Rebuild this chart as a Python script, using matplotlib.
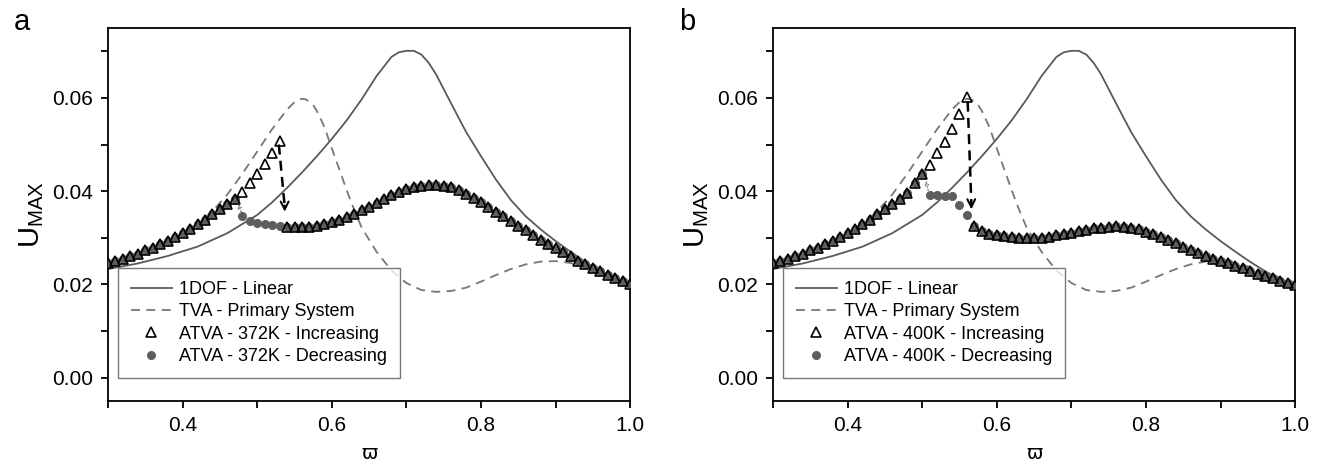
import matplotlib
matplotlib.use("Agg")
import matplotlib.pyplot as plt
from matplotlib.ticker import MultipleLocator, FormatStrFormatter

plt.rcParams['font.family'] = ['Liberation Sans', 'DejaVu Sans']
plt.rcParams['mathtext.fontset'] = 'custom'
plt.rcParams['mathtext.rm'] = 'Liberation Sans'

# ---------------- data ----------------
# 1DOF - Linear (same in both panels)
dof_w = [0.30, 0.34, 0.38, 0.42, 0.46, 0.50, 0.52, 0.54, 0.56, 0.58, 0.60, 0.62, 0.64,
         0.66, 0.68, 0.69, 0.70, 0.71, 0.72, 0.73, 0.74, 0.76, 0.78, 0.80, 0.82, 0.84,
         0.86, 0.88, 0.90, 0.92, 0.94, 0.96, 0.98, 1.00]
dof_u = [0.0233, 0.0245, 0.0261, 0.0281, 0.0310, 0.0349, 0.0376, 0.0407, 0.0440, 0.0475,
         0.0512, 0.0552, 0.0597, 0.0647, 0.0688, 0.0698, 0.0701, 0.0701, 0.0693, 0.0675,
         0.0650, 0.0588, 0.0527, 0.0475, 0.0425, 0.0381, 0.0346, 0.0318, 0.0293, 0.0270,
         0.0248, 0.0228, 0.0211, 0.0195]

# TVA - Primary System (same in both panels)
tva_w = [0.30, 0.34, 0.38, 0.42, 0.44, 0.46, 0.48, 0.50, 0.52, 0.54, 0.55, 0.555, 0.56,
         0.565, 0.57, 0.575, 0.58, 0.59, 0.60, 0.61, 0.62, 0.63, 0.64, 0.66, 0.68, 0.70,
         0.72, 0.74, 0.76, 0.78, 0.80, 0.82, 0.84, 0.86, 0.88, 0.90, 0.92, 0.94, 0.96,
         0.98, 1.00]
tva_u = [0.0245, 0.0264, 0.0292, 0.0330, 0.0357, 0.0393, 0.0437, 0.0485, 0.0533, 0.0575,
         0.0591, 0.0596, 0.0598, 0.0597, 0.0592, 0.0585, 0.0572, 0.0538, 0.0492, 0.0447,
         0.0402, 0.0360, 0.0322, 0.0270, 0.0230, 0.0203, 0.0188, 0.0184, 0.0186, 0.0193,
         0.0206, 0.0220, 0.0233, 0.0243, 0.0249, 0.0250, 0.0246, 0.0237, 0.0226, 0.0214,
         0.0201]

# sweep frequencies, common lower-frequency part
w_low = [0.30, 0.31, 0.32, 0.33, 0.34, 0.35, 0.36, 0.37, 0.38, 0.39, 0.40, 0.41, 0.42,
         0.43, 0.44, 0.45, 0.46, 0.47]
u_low = [0.0245, 0.0250, 0.0255, 0.0261, 0.0266, 0.0273, 0.0279, 0.0286, 0.0294, 0.0302,
         0.0310, 0.0319, 0.0329, 0.0339, 0.0350, 0.0361, 0.0372, 0.0383]

# panel a (372K)
a_up_w = [0.48, 0.49, 0.50, 0.51, 0.52, 0.53]
a_up_u = [0.0398, 0.0418, 0.0436, 0.0458, 0.0482, 0.0508]
a_dec_w = [0.48, 0.49, 0.50, 0.51, 0.52, 0.53]
a_dec_u = [0.0346, 0.0336, 0.0332, 0.0329, 0.0327, 0.0325]
a_hi_w = [0.54, 0.55, 0.56, 0.57, 0.58, 0.59, 0.60, 0.61, 0.62, 0.63, 0.64, 0.65, 0.66,
          0.67, 0.68, 0.69, 0.70, 0.71, 0.72, 0.73, 0.74, 0.75, 0.76, 0.77, 0.78, 0.79,
          0.80, 0.81, 0.82, 0.83, 0.84, 0.85, 0.86, 0.87, 0.88, 0.89, 0.90, 0.91, 0.92,
          0.93, 0.94, 0.95, 0.96, 0.97, 0.98, 0.99, 1.00]
a_hi_u = [0.0323, 0.0323, 0.0323, 0.0324, 0.0326, 0.0329, 0.0333, 0.0338, 0.0344, 0.0351,
          0.0359, 0.0367, 0.0375, 0.0383, 0.0391, 0.0398, 0.0404, 0.0409, 0.0412, 0.0414,
          0.0414, 0.0412, 0.0408, 0.0402, 0.0395, 0.0386, 0.0377, 0.0367, 0.0356, 0.0346,
          0.0336, 0.0326, 0.0316, 0.0306, 0.0296, 0.0287, 0.0278, 0.0269, 0.0260, 0.0251,
          0.0243, 0.0235, 0.0228, 0.0221, 0.0214, 0.0207, 0.0200]

# panel b (400K)
b_up_w = [0.48, 0.49, 0.50, 0.51, 0.52, 0.53, 0.54, 0.55, 0.56]
b_up_u = [0.0397, 0.0417, 0.0436, 0.0457, 0.0481, 0.0506, 0.0534, 0.0565, 0.0601]
b_dec_w = [0.51, 0.52, 0.53, 0.54, 0.55, 0.56]
b_dec_u = [0.0392, 0.0391, 0.0390, 0.0389, 0.0371, 0.0348]
b_hi_w = [0.57, 0.58, 0.59, 0.60, 0.61, 0.62, 0.63, 0.64, 0.65, 0.66, 0.67, 0.68, 0.69,
          0.70, 0.71, 0.72, 0.73, 0.74, 0.75, 0.76, 0.77, 0.78, 0.79, 0.80, 0.81, 0.82,
          0.83, 0.84, 0.85, 0.86, 0.87, 0.88, 0.89, 0.90, 0.91, 0.92, 0.93, 0.94, 0.95,
          0.96, 0.97, 0.98, 0.99, 1.00]
b_hi_u = [0.0325, 0.0315, 0.0309, 0.0305, 0.0303, 0.0301, 0.0300, 0.0299, 0.0299, 0.0300,
          0.0302, 0.0305, 0.0308, 0.0311, 0.0314, 0.0317, 0.0320, 0.0322, 0.0324, 0.0325,
          0.0324, 0.0322, 0.0318, 0.0313, 0.0308, 0.0302, 0.0295, 0.0288, 0.0281, 0.0274,
          0.0267, 0.0261, 0.0255, 0.0250, 0.0245, 0.0240, 0.0235, 0.0229, 0.0223, 0.0218,
          0.0213, 0.0208, 0.0203, 0.0198]

panels = [
    dict(tag='a', temp='372K', up_w=a_up_w, up_u=a_up_u, dec_w=a_dec_w, dec_u=a_dec_u,
         hi_w=a_hi_w, hi_u=a_hi_u,
         jump=((0.529, 0.0500), (0.537, 0.0350)), back=((0.480, 0.0350), (0.473, 0.0378))),
    dict(tag='b', temp='400K', up_w=b_up_w, up_u=b_up_u, dec_w=b_dec_w, dec_u=b_dec_u,
         hi_w=b_hi_w, hi_u=b_hi_u,
         jump=((0.561, 0.0592), (0.566, 0.0355)), back=((0.509, 0.0396), (0.504, 0.0428))),
]

fig = plt.figure(figsize=(13.22, 4.68), dpi=100)
positions = [[0.0817, 0.1432, 0.3950, 0.7970], [0.5847, 0.1432, 0.3950, 0.7970]]

for pos, p in zip(positions, panels):
    ax = fig.add_axes(pos)
    ax.plot(dof_w, dof_u, '-', color='#5a5a5a', lw=1.3, label='1DOF - Linear', zorder=2)
    ax.plot(tva_w, tva_u, '--', color='#777777', lw=1.3, dashes=(5, 3.5),
            label='TVA - Primary System', zorder=2)
    inc_w = w_low + p['up_w'] + p['hi_w']
    inc_u = u_low + p['up_u'] + p['hi_u']
    # decreasing sweep: lower branch down to the jump, then the upper branch
    n_up = len(p['up_w']) - len(p['dec_w'])
    dec_w = w_low + p['up_w'][:n_up] + p['dec_w'] + p['hi_w']
    dec_u = u_low + p['up_u'][:n_up] + p['dec_u'] + p['hi_u']
    ax.plot(dec_w, dec_u, 'o', ls='none', color='#5e5e5e', ms=5.5, mec='#5e5e5e',
            label='ATVA - %s - Decreasing' % p['temp'], zorder=3)
    ax.plot(inc_w, inc_u, '^', ls='none', mfc='none', mec='black', mew=1.2, ms=6.5,
            label='ATVA - %s - Increasing' % p['temp'], zorder=4)

    (x0, y0), (x1, y1) = p['jump']
    ax.plot([x0, x1], [y0, y1 + 0.0015], '--', color='black', lw=1.8, dashes=(4, 2.5), zorder=5)
    ax.annotate('', xy=(x1, y1), xytext=(x1 - 0.0002, y1 + 0.0025),
                arrowprops=dict(arrowstyle='->', color='black', lw=1.5, mutation_scale=14),
                zorder=5)
    (bx0, by0), (bx1, by1) = p['back']
    ax.annotate('', xy=(bx1, by1), xytext=(bx0, by0),
                arrowprops=dict(arrowstyle='->', color='#777777', lw=0.9, ls=':',
                                mutation_scale=6), zorder=5)

    ax.set_xlim(0.3, 1.0)
    ax.set_ylim(-0.005, 0.075)
    ax.xaxis.set_major_locator(MultipleLocator(0.2))
    ax.xaxis.set_minor_locator(MultipleLocator(0.1))
    ax.yaxis.set_major_locator(MultipleLocator(0.02))
    ax.yaxis.set_minor_locator(MultipleLocator(0.01))
    ax.xaxis.set_major_formatter(FormatStrFormatter('%.1f'))
    ax.yaxis.set_major_formatter(FormatStrFormatter('%.2f'))
    ax.tick_params(which='both', direction='out', length=5, width=1.3, labelsize=15,
                   top=False, right=False, pad=6)
    for s in ax.spines.values():
        s.set_linewidth(1.3)
        s.set_color('black')

    ax.set_ylabel(r'$\mathrm{U}_{\mathrm{MAX}}$', fontsize=21, labelpad=4)
    ax.set_xlabel('\u03d6', fontsize=14, family=['DejaVu Sans'], labelpad=6)

    h, l = ax.get_legend_handles_labels()
    order = [0, 1, 3, 2]
    leg = ax.legend([h[i] for i in order], [l[i] for i in order], loc='lower left',
                    bbox_to_anchor=(0.019, 0.062), fontsize=13, frameon=True,
                    fancybox=False, edgecolor='#555555', numpoints=1, handlelength=2.3,
                    borderpad=0.7, labelspacing=0.3, handletextpad=0.4, borderaxespad=0)
    leg.get_frame().set_linewidth(1.0)

    fig.text(pos[0] - 0.071, 0.935, p['tag'], fontsize=21, ha='left', va='baseline')

fig.savefig('out.png', dpi=100)
